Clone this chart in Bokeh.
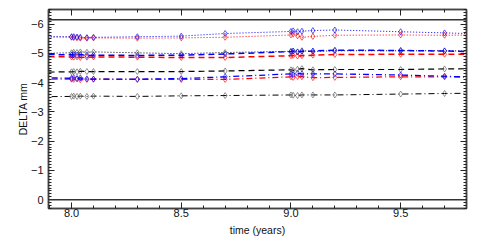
from bokeh.plotting import figure
from bokeh.models import Range1d, LinearAxis, FixedTicker, Span
from bokeh.embed import file_html
from bokeh.resources import INLINE
import numpy as np

# observation times (years)
t = [8.0, 8.01, 8.025, 8.04, 8.07, 8.10, 8.30, 8.50, 8.70,
     9.00, 9.01, 9.03, 9.05, 9.10, 9.20, 9.50, 9.70]
# line continues past the plotted range at both ends
t_edges = (7.85, 9.85)

blue_dot = [-5.57, -5.57, -5.56, -5.55, -5.54, -5.55, -5.57, -5.59, -5.68,
            -5.75, -5.77, -5.74, -5.76, -5.78, -5.80, -5.74, -5.70]
blue_dot_edges = (-5.58, -5.67)
red_dot = [-5.55, -5.54, -5.53, -5.52, -5.52, -5.53, -5.52, -5.53, -5.55,
           -5.63, -5.66, -5.60, -5.55, -5.58, -5.62, -5.63, -5.62]
red_dot_edges = (-5.56, -5.63)
black_dot = [-5.02, -5.04, -5.03, -5.05, -5.04, -5.05, -5.02, -4.99, -5.03,
             -5.07, -5.08, -5.05, -5.09, -5.07, -5.09, -5.09, -5.09]
black_dot_edges = (-5.00, -5.08)

blue_dash = [-4.95, -4.96, -4.94, -4.96, -4.93, -4.94, -4.93, -4.94, -4.98,
             -5.06, -5.08, -5.05, -5.07, -5.08, -5.11, -5.10, -5.08]
blue_dash_edges = (-4.97, -5.06)
red_dash = [-4.88, -4.87, -4.88, -4.86, -4.87, -4.88, -4.87, -4.86, -4.86,
            -4.92, -4.93, -4.91, -4.92, -4.94, -4.96, -4.97, -4.97]
red_dash_edges = (-4.89, -4.97)
black_dash = [-4.37, -4.38, -4.37, -4.39, -4.38, -4.38, -4.38, -4.38, -4.40,
              -4.44, -4.42, -4.46, -4.48, -4.44, -4.45, -4.45, -4.47]
black_dash_edges = (-4.36, -4.48)

blue_dd = [-4.15, -4.17, -4.14, -4.16, -4.13, -4.12, -4.12, -4.14, -4.20,
           -4.30, -4.28, -4.32, -4.30, -4.30, -4.30, -4.26, -4.22]
blue_dd_edges = (-4.17, -4.18)
red_dd = [-4.12, -4.11, -4.13, -4.10, -4.11, -4.12, -4.11, -4.11, -4.11,
          -4.20, -4.18, -4.21, -4.20, -4.17, -4.18, -4.20, -4.20]
red_dd_edges = (-4.12, -4.19)
black_dd = [-3.53, -3.54, -3.53, -3.54, -3.53, -3.54, -3.53, -3.55, -3.56,
            -3.58, -3.57, -3.56, -3.58, -3.58, -3.58, -3.61, -3.63]
black_dd_edges = (-3.52, -3.64)

ref_levels = [0.0, -6.15]
y_major = [0, -1, -2, -3, -4, -5, -6]
y_labels = ["0", "\u22121", "\u22122", "\u22123", "\u22124", "\u22125", "\u22126"]
x_major = [8.0, 8.5, 9.0, 9.5]
x_labels = ["8.0", "8.5", "9.0", "9.5"]
x_title = "time (years)"
y_title = "DELTA mm"

X_START, X_END = 7.895, 9.80
Y_START, Y_END = 0.3, -6.5

BLUE = "#0000ff"
RED = "#ff0000"
BLACK = "#000000"
GREY = "#555555"
DOT = "1 2"
DASH = "6 4"
DASHDOT = "6 3 1 3"
FONT = "Liberation Sans"

p = figure(width=485, height=242, output_backend="svg", toolbar_location=None,
           x_range=Range1d(X_START, X_END), y_range=Range1d(Y_START, Y_END),
           min_border_left=48, min_border_right=19, min_border_top=9,
           min_border_bottom=34)
p.grid.visible = False
p.background_fill_color = "white"
p.outline_line_color = "#444444"
p.outline_line_width = 1.5


def style_axis(ax, labels=True):
    ax.axis_line_color = "#444444"
    ax.axis_line_width = 1.5
    ax.major_tick_in = 6
    ax.major_tick_out = 0
    ax.minor_tick_in = 3
    ax.minor_tick_out = 0
    ax.major_tick_line_color = "#222222"
    ax.minor_tick_line_color = "#222222"
    ax.major_label_text_font = FONT
    ax.major_label_text_font_size = "11px"
    ax.major_label_text_color = "#111111"
    ax.axis_label_text_font = FONT
    ax.axis_label_text_font_size = "10.5px"
    ax.axis_label_text_font_style = "normal"
    ax.axis_label_text_color = "#111111"
    if not labels:
        ax.major_label_text_font_size = "0px"
        ax.major_label_text_alpha = 0
        ax.major_label_standoff = 0


ymin_ticks = [round(v, 2) for v in np.arange(0.3, -6.51, -0.1)]
xmin_ticks = [round(v, 2) for v in np.arange(7.9, 9.81, 0.1)]

p.yaxis.ticker = FixedTicker(ticks=y_major, minor_ticks=ymin_ticks)
p.xaxis.ticker = FixedTicker(ticks=x_major, minor_ticks=xmin_ticks)
p.yaxis.major_label_overrides = {k: v for k, v in zip(y_major, y_labels)}
p.xaxis.major_label_overrides = {k: v for k, v in zip(x_major, x_labels)}
p.yaxis.axis_label = y_title
p.xaxis.axis_label = x_title
p.yaxis.axis_label_standoff = -1
p.xaxis.axis_label_standoff = 4
p.xaxis.major_label_standoff = 0
p.yaxis.major_label_standoff = 5
style_axis(p.xaxis[0])
style_axis(p.yaxis[0])

ra = LinearAxis(ticker=FixedTicker(ticks=y_major, minor_ticks=ymin_ticks))
style_axis(ra, labels=False)
p.add_layout(ra, "right")
ta = LinearAxis(ticker=FixedTicker(ticks=x_major, minor_ticks=xmin_ticks))
style_axis(ta, labels=False)
p.add_layout(ta, "above")
p.min_border_right = 19
p.min_border_top = 9

for lv in ref_levels:
    p.add_layout(Span(location=lv, dimension="width", line_color="#333333", line_width=1.5))

t_line = [t_edges[0]] + t + [t_edges[1]]
series = [
    (black_dot, black_dot_edges, BLACK, GREY, DOT, 1.0),
    (black_dash, black_dash_edges, BLACK, GREY, DASH, 1.2),
    (black_dd, black_dd_edges, BLACK, GREY, DASHDOT, 1.0),
    (red_dot, red_dot_edges, RED, RED, DOT, 1.0),
    (red_dash, red_dash_edges, RED, RED, DASH, 1.5),
    (red_dd, red_dd_edges, RED, RED, DASHDOT, 1.3),
    (blue_dot, blue_dot_edges, BLUE, BLUE, DOT, 1.0),
    (blue_dash, blue_dash_edges, BLUE, BLUE, DASH, 1.5),
    (blue_dd, blue_dd_edges, BLUE, BLUE, DASHDOT, 1.3),
]
for vals, edges, lc, mc, dash, lw in series:
    yl = [edges[0]] + vals + [edges[1]]
    p.line(t_line, yl, line_color=lc, line_dash=dash, line_width=lw)
    p.scatter(t, vals, marker="diamond", size=6, fill_color=None,
              line_color=mc, line_width=0.8, line_alpha=0.8)

open("out.html", "w").write(file_html(p, INLINE))
